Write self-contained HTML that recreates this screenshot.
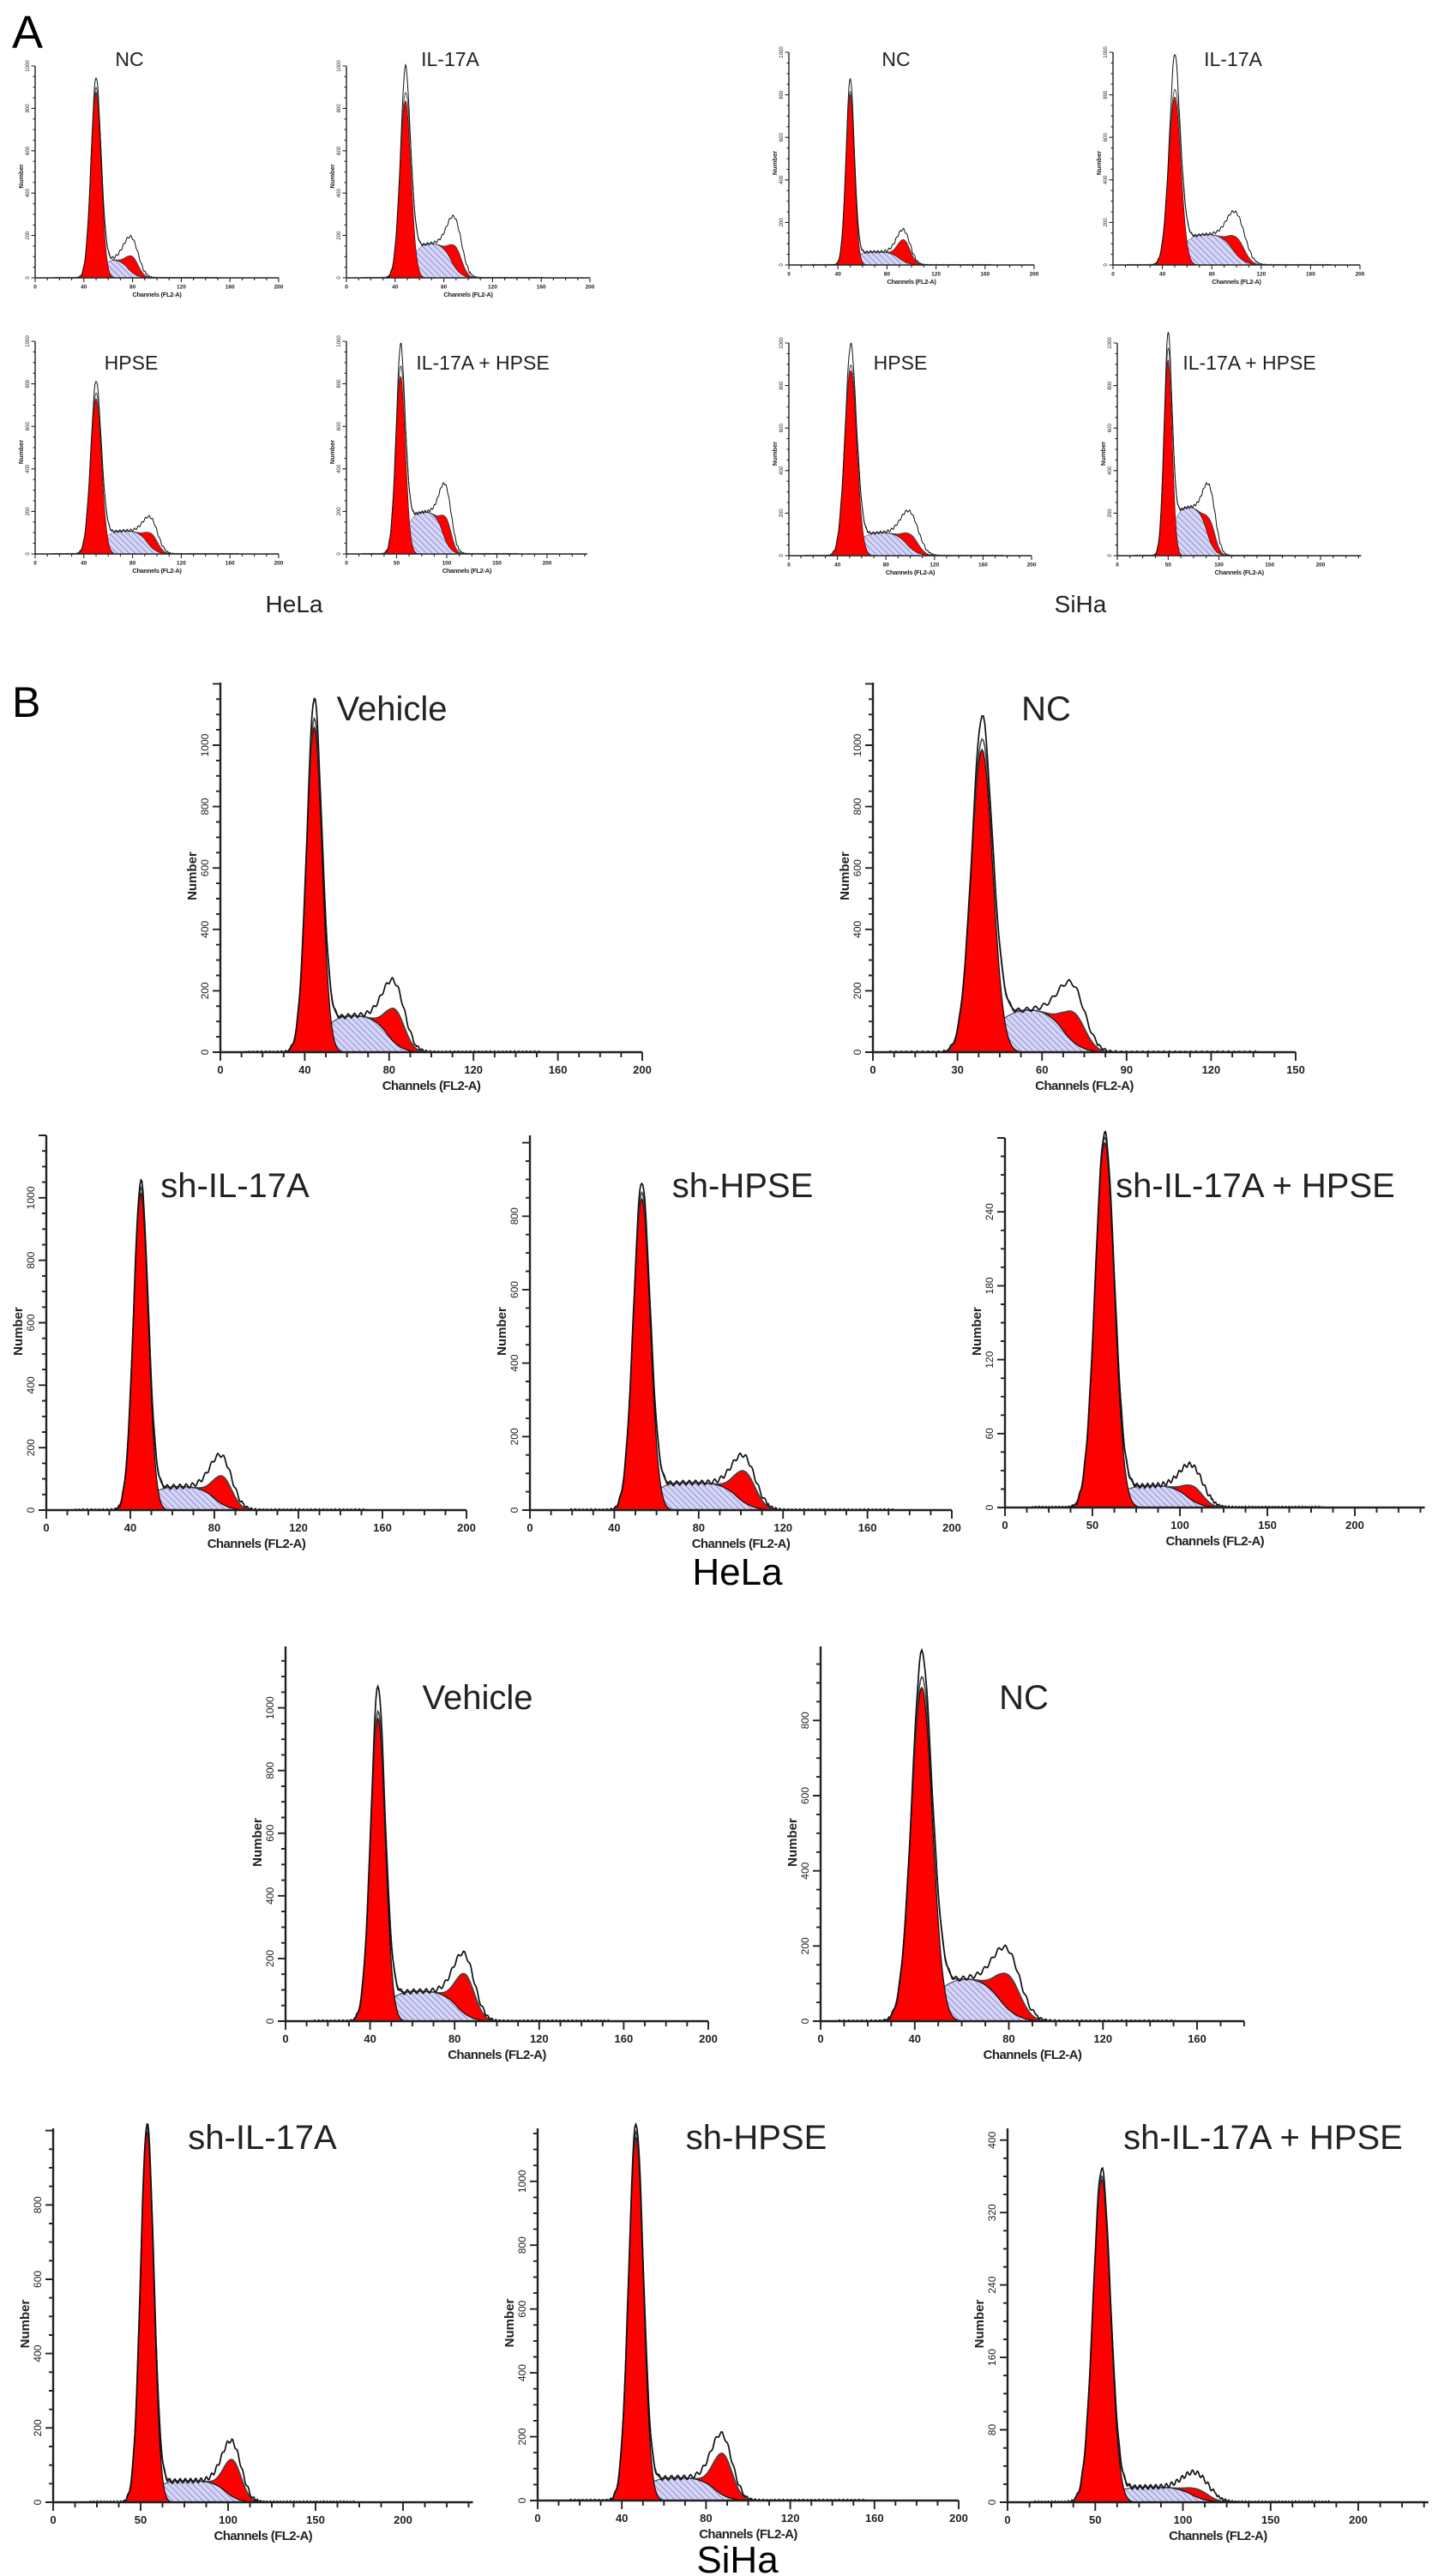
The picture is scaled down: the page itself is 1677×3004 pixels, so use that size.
<!DOCTYPE html>
<html><head><meta charset="utf-8">
<style>
html,body{margin:0;padding:0;background:#fff;}
svg{display:block;font-family:"Liberation Sans",Arial,sans-serif;}
</style></head>
<body>
<svg id="fig" width="1677" height="3004" viewBox="0 0 1677 3004" xmlns="http://www.w3.org/2000/svg">
<defs>
<pattern id="hatch" width="5" height="5" patternUnits="userSpaceOnUse" patternTransform="rotate(-45)">
<rect width="5" height="5" fill="#d6d6f4"/>
<line x1="0" y1="0" x2="0" y2="5" stroke="#6b6bd0" stroke-width="1.3"/>
</pattern>
</defs>
<text x="14" y="56" font-size="54">A</text>
<text x="14" y="836" font-size="50">B</text>
<text x="343" y="714" font-size="28" text-anchor="middle" fill="#222">HeLa</text>
<text x="1260" y="714" font-size="28" text-anchor="middle" fill="#222">SiHa</text>
<text x="860" y="1848" font-size="44" text-anchor="middle">HeLa</text>
<text x="860" y="3000" font-size="44" text-anchor="middle">SiHa</text>
<g id="plots"></g>
</svg>
<script>
// ---- data ----
const panelTitles = ["NC","IL-17A","HPSE","IL-17A + HPSE","NC","IL-17A","HPSE","IL-17A + HPSE",
  "Vehicle","NC","sh-IL-17A","sh-HPSE","sh-IL-17A + HPSE",
  "Vehicle","NC","sh-IL-17A","sh-HPSE","sh-IL-17A + HPSE"];
const yMax      = [1000,1000,1000,1000,1000,1000,1000,1000, 1204,1204,1200,1020,300, 1196,997,1006,1166,413];
const yTickStep = [200,200,200,200,200,200,200,200, 200,200,200,200,60, 200,200,200,200,80];
const yTickLast = [1200,1200,1200,1200,1200,1200,1200,1200, 1000,1000,1000,800,240, 1000,800,800,1000,400];
const xMax      = [200,200,200,240,200,200,200,240, 200,150,200,200,240, 200,180,240,200,240];
const xTickStep = [40,40,40,50,40,40,40,50, 40,30,40,40,50, 40,40,50,40,50];
const xTickLast = [200,200,200,200,200,200,200,200, 200,150,200,200,200, 200,160,200,200,200];
const g1Mean    = [50,48.5,50,54,50,50,51,50, 44.5,38.7,45,53,57, 43.7,43,53.7,46.7,53.7];
const g1Sd      = [4.2,4.5,4.5,4.8,3.5,5,5,4, 3.7,3.8,3.5,4,5.5, 3.5,4.5,3.8,3.5,5];
const g1Height  = [877,835,730,835,800,790,870,920, 1058,986,1014,847,296, 966,888,995,1137,356];
const g1Raw     = [927,960,790,940,866,960,970,1000, 1128,1064,1037,877,300, 1050,955,1006,1166,365];
const sHeight   = [92,165,110,200,62,145,110,230, 120,142,76,75,18, 96,117,58,72,17];
const g2Mean    = [80,90,96,100,94,101,101,92, 83,71.5,84,102,108, 85,80,102.6,88,109];
const g2Sd      = [5,5,5,5,5,6,6,5, 4.5,4,4.5,5,5.5, 4.5,5,5,4.5,6];
const g2Top     = [100,145,93,165,118,124,97,160, 139,128,108,105,17, 150,122,114,147,14];
const g2Raw     = [195,290,175,330,165,250,210,335, 235,229,176,150,35, 216,197,164,206,33];

// ---- layout (pixels) ----
const axisX0   = [41,404,41,404,920,1298,920,1303, 257,1018,54,618,1172, 333,957,62,627,1175];
const axisPpu  = [1.42,1.42,1.42,1.17,1.43,1.44,1.415,1.185, 2.46,3.287,2.45,2.46,2.04, 2.465,2.744,2.04,2.455,2.045];
const axisTop  = [77,77,398,398,61,61,400,400, 796,796,1324,1324,1327, 1920,1920,2482,2482,2482];
const axisBase = [324,324,646,646,309,309,648,648, 1227,1227,1761,1761,1758, 2357,2357,2918,2916,2918];
const titleX   = [151,525,153,563,1045,1438,1050,1457, 457,1220,274,866,1464, 557,1194,306,882,1473];
const titleY   = [77,77,431,431,77,77,431,431, 840,840,1396,1396,1396, 1993,1993,2506,2506,2506];
const fscale   = [0.5,0.5,0.5,0.5,0.5,0.5,0.5,0.5, 1,1,1,1,1, 1,1,1,1,1];

const NS = "http://www.w3.org/2000/svg";
const root = document.getElementById('plots');
function mk(tag, attrs, parent){ const e=document.createElementNS(NS,tag); for(const k in attrs) e.setAttribute(k,attrs[k]); (parent||root).appendChild(e); return e; }
function gauss(x,m,s){ return Math.exp(-0.5*((x-m)/s)*((x-m)/s)); }
function cdf(z){ const t=1/(1+0.3275911*Math.abs(z)); const y=1-(((((1.061405429*t-1.453152027)*t)+1.421413741)*t-0.284496736)*t+0.254829592)*t*Math.exp(-z*z/2); return z>=0?0.5+0.5*y:0.5-0.5*y; }

for(let i=0;i<panelTitles.length;i++){
  const fs=fscale[i], x0=axisX0[i], ppu=axisPpu[i], top=axisTop[i], base=axisBase[i];
  const xs = v => x0 + v*ppu;
  const ys = v => base - v*(base-top)/yMax[i];
  const g = mk('g',{});
  
  
  const sStart=g1Mean[i]+1.0*g1Sd[i], sEnd=g2Mean[i]-4, sEdge=g2Sd[i]*1.5;
  const S = x => sHeight[i]*cdf((x-sStart)/(g1Sd[i]*1.7))*(1-cdf((x-sEnd)/sEdge));
  const G1 = x => g1Height[i]*gauss(x,g1Mean[i],g1Sd[i]);
  const g2h = Math.max(0,g2Top[i]-S(g2Mean[i]));
  const G2 = x => g2h*gauss(x,g2Mean[i],g2Sd[i]);
  const fit = x => G1(x)+S(x)+G2(x);
  const exPos=g2Mean[i]-2;
  const ex2 = Math.max(0,g2Raw[i]-fit(exPos));
  const ex1 = Math.max(0,g1Raw[i]-g1Height[i]);
  const raw = x => fit(x)+ex1*gauss(x,g1Mean[i],g1Sd[i]*0.5)+ex2*gauss(x,exPos,g2Sd[i]*1.3);
  const step=0.5, lo=Math.max(0,g1Mean[i]-5*g1Sd[i]-4), hi=Math.min(xMax[i],g2Mean[i]+5*g2Sd[i]+6);
  // S-phase hatched
  let d='M'+xs(lo)+','+base;
  for(let x=lo;x<=hi;x+=step) d+=' L'+xs(x).toFixed(1)+','+ys(S(x)).toFixed(1);
  d+=' L'+xs(hi)+','+base+' Z';
  const sp=mk('path',{d:d,fill:'url(#hatch)',stroke:'#333','stroke-width':fs},g);
  
  
  // G1 red
  d='M'+xs(lo)+','+base;
  for(let x=lo;x<=g1Mean[i]+5*g1Sd[i];x+=step) d+=' L'+xs(x).toFixed(1)+','+ys(G1(x)).toFixed(1);
  d+=' L'+xs(g1Mean[i]+5*g1Sd[i])+','+base+' Z';
  const p1=mk('path',{d:d,fill:'#f00',stroke:'#111','stroke-width':1.2*fs},g);
  
  
  // G2 red stacked on S
  const a=g2Mean[i]-3.2*g2Sd[i], b=g2Mean[i]+4*g2Sd[i];
  d='';
  for(let x=a;x<=b;x+=step) d+=(d?' L':'M')+xs(x).toFixed(1)+','+ys(S(x)+G2(x)).toFixed(1);
  for(let x=b;x>=a;x-=step) d+=' L'+xs(x).toFixed(1)+','+ys(S(x)).toFixed(1);
  d+=' Z';
  const p2=mk('path',{d:d,fill:'#f00',stroke:'#111','stroke-width':1.2*fs},g);
  
  
  // envelope lines
  let df='', dr='';
  const lstart=Math.max(0,lo-10), lend=Math.min(xMax[i], hi+40);
  for(let x=lstart;x<=lend;x+=step){
    const w = fit(x)>yMax[i]*0.01 ? yMax[i]*0.006*Math.sin(x*2.1) : yMax[i]*0.003*Math.sin(x*3.3);
    df+=(df?' L':'M')+xs(x).toFixed(1)+','+ys(fit(x)).toFixed(1);
    dr+=(dr?' L':'M')+xs(x).toFixed(1)+','+ys(Math.max(0,raw(x)+w)).toFixed(1);
  }
  const lf=mk('path',{d:df,fill:'none',stroke:'#444','stroke-width':1.3*fs+0.3},g);
  
  
  const lr=mk('path',{d:dr,fill:'none',stroke:'#111','stroke-width':1.4*fs+0.3},g);
  
  
  // axes
  const xe=xs(xMax[i]);
  const ax=mk('path',{d:'M'+x0+','+top+' L'+x0+','+base+' L'+xe+','+base,fill:'none',stroke:'#222','stroke-width':2*fs+0.4},g);
  
  
  let tk='';
  const xm=xTickStep[i]/4;
  for(let v=0;v<=xMax[i]+0.01;v+=xm){ const major=Math.abs(v/xTickStep[i]-Math.round(v/xTickStep[i]))<1e-6; tk+=' M'+xs(v).toFixed(1)+','+base+' l0,'+(major?10:6)*fs; }
  const ym=yTickStep[i]/4;
  for(let v=0;v<=yMax[i]+0.01;v+=ym){ const major=Math.abs(v/yTickStep[i]-Math.round(v/yTickStep[i]))<1e-6; tk+=' M'+x0+','+ys(v).toFixed(1)+' l-'+(major?9:5)*fs+',0'; }
  const tp=mk('path',{d:tk,fill:'none',stroke:'#222','stroke-width':1.6*fs+0.3},g);
  
  
  for(let v=0;v<=xTickLast[i];v+=xTickStep[i]){
    const t=mk('text',{x:xs(v),y:base+25*fs,'font-size':13*fs,'text-anchor':'middle','font-weight':'bold','fill':'#222'},g);
    t.textContent=v;
    
    
  }
  for(let v=0;v<=Math.min(yTickLast[i],yMax[i]);v+=yTickStep[i]){
    const yy=ys(v), xx=x0-14*fs;
    const t=mk('text',{x:xx,y:yy,'font-size':12*fs,'text-anchor':'middle','fill':'#222',transform:'rotate(-90 '+xx+' '+yy+')'},g);
    t.textContent=v;
    
    
  }
  const xt=mk('text',{x:(x0+xe)/2,y:base+44*fs,'font-size':15*fs,'text-anchor':'middle','font-weight':'bold',fill:'#222','letter-spacing':-0.6*fs},g);
  xt.textContent='Channels (FL2-A)';
  
  
  const ny=(top+base)/2+10*fs, nx=x0-28*fs;
  const yt=mk('text',{x:nx,y:ny,'font-size':15*fs,'text-anchor':'middle','font-weight':'bold',fill:'#222',transform:'rotate(-90 '+nx+' '+ny+')'},g);
  yt.textContent='Number';
  
  
  const tt=mk('text',{x:titleX[i],y:titleY[i],'font-size':fs===1?40:23,'text-anchor':'middle',fill:'#222'},g);
  tt.textContent=panelTitles[i];
  
  
}
</script>
</body></html>
